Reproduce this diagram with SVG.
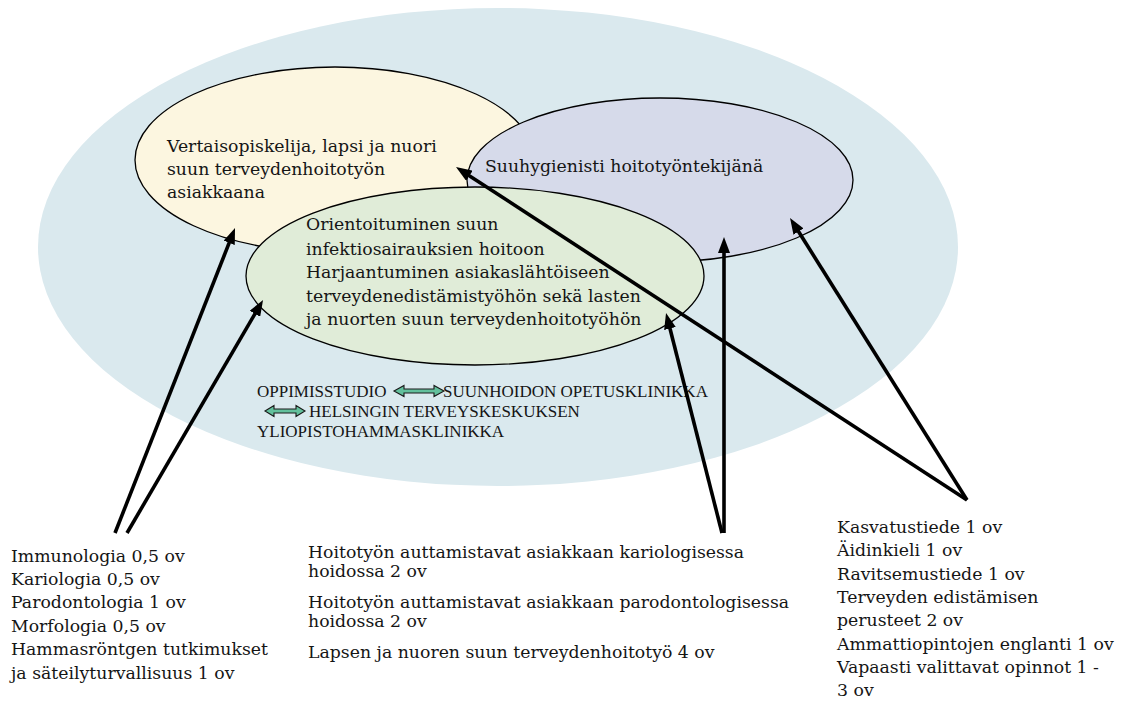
<svg xmlns="http://www.w3.org/2000/svg" width="1126" height="703" viewBox="0 0 1126 703">
<defs>
<style>
.t{font-family:"DejaVu Serif","Liberation Serif",serif;font-size:17.3px;fill:#151515}
.c{font-family:"Liberation Serif","DejaVu Serif",serif;font-size:17px;fill:#151515}
.node{stroke:#000;stroke-width:1.3}
.conn{stroke:#000;stroke-width:3.6;fill:none;marker-end:url(#ah)}
.dbl{fill:#62c09c;stroke:#1a1a1a;stroke-width:1.1;stroke-linejoin:miter}
</style>
<marker id="ah" markerUnits="userSpaceOnUse" viewBox="0 0 16 12" markerWidth="16" markerHeight="12" refX="8" refY="6" orient="auto">
<path d="M0,0 L16,6 L0,12 z" fill="#000"/>
</marker>
</defs>
<rect width="1126" height="703" fill="#fff"/>
<g id="background">
<ellipse cx="498" cy="247" rx="460" ry="239" fill="#dae9ee"/>
</g>
<g id="node-yellow">
<ellipse class="node" cx="335" cy="160" rx="200" ry="93" fill="#fcf6e0"/>
<text class="t" x="167" y="152">Vertaisopiskelija, lapsi ja nuori</text>
<text class="t" x="167" y="175">suun terveydenhoitotyön</text>
<text class="t" x="167" y="198">asiakkaana</text>
</g>
<g id="node-purple">
<ellipse class="node" cx="660" cy="180" rx="193" ry="82" fill="#d6daea"/>
<text class="t" x="485" y="172">Suuhygienisti hoitotyöntekijänä</text>
</g>
<g id="node-green">
<ellipse class="node" cx="475" cy="276" rx="229" ry="89" fill="#e0ecd8"/>
<text class="t" x="306" y="230">Orientoituminen suun</text>
<text class="t" x="306" y="255">infektiosairauksien hoitoon</text>
<text class="t" x="306" y="278">Harjaantuminen asiakaslähtöiseen</text>
<text class="t" x="306" y="302">terveydenedistämistyöhön sekä lasten</text>
<text class="t" x="306" y="325">ja nuorten suun terveydenhoitotyöhön</text>
</g>
<g id="learning-places">
<text class="c" x="257" y="397">OPPIMISSTUDIO</text>
<path class="dbl" d="M394,391 L404,385.5 L404,389 L434,389 L434,385.5 L444,391 L434,396.5 L434,393 L404,393 L404,396.5 z"/>
<text class="c" x="443" y="397">SUUNHOIDON OPETUSKLINIKKA</text>
<path class="dbl" d="M265,411 L274,405.5 L274,409 L296,409 L296,405.5 L305,411 L296,416.5 L296,413 L274,413 L274,416.5 z"/>
<text class="c" x="309" y="417">HELSINGIN TERVEYSKESKUKSEN</text>
<text class="c" x="257" y="437">YLIOPISTOHAMMASKLINIKKA</text>
</g>
<g id="list-left">
<text class="t" x="11" y="562">Immunologia 0,5 ov</text>
<text class="t" x="11" y="585">Kariologia 0,5 ov</text>
<text class="t" x="11" y="608">Parodontologia 1 ov</text>
<text class="t" x="11" y="632">Morfologia 0,5 ov</text>
<text class="t" x="11" y="655">Hammasröntgen tutkimukset</text>
<text class="t" x="11" y="679">ja säteilyturvallisuus 1 ov</text>
</g>
<g id="list-middle">
<text class="t" x="308" y="558">Hoitotyön auttamistavat asiakkaan kariologisessa</text>
<text class="t" x="308" y="577">hoidossa 2 ov</text>
<text class="t" x="308" y="608">Hoitotyön auttamistavat asiakkaan parodontologisessa</text>
<text class="t" x="308" y="627">hoidossa 2 ov</text>
<text class="t" x="308" y="658">Lapsen ja nuoren suun terveydenhoitotyö 4 ov</text>
</g>
<g id="list-right">
<text class="t" x="837" y="533">Kasvatustiede 1 ov</text>
<text class="t" x="837" y="556">Äidinkieli 1 ov</text>
<text class="t" x="837" y="580">Ravitsemustiede 1 ov</text>
<text class="t" x="837" y="603">Terveyden edistämisen</text>
<text class="t" x="837" y="626">perusteet 2 ov</text>
<text class="t" x="837" y="650">Ammattiopintojen englanti 1 ov</text>
<text class="t" x="837" y="673">Vapaasti valittavat opinnot 1 -</text>
<text class="t" x="837" y="696">3 ov</text>
</g>
<g id="connectors">
<line class="conn" x1="115" y1="533" x2="232.1" y2="235.4"/>
<line class="conn" x1="127" y1="533" x2="259" y2="306.9"/>
<line class="conn" x1="722" y1="533" x2="668" y2="320.8"/>
<line class="conn" x1="724" y1="533" x2="724" y2="245"/>
<line class="conn" x1="967" y1="500" x2="462.7" y2="171.4"/>
<line class="conn" x1="967" y1="500" x2="794.3" y2="224.8"/>
</g>
</svg>
